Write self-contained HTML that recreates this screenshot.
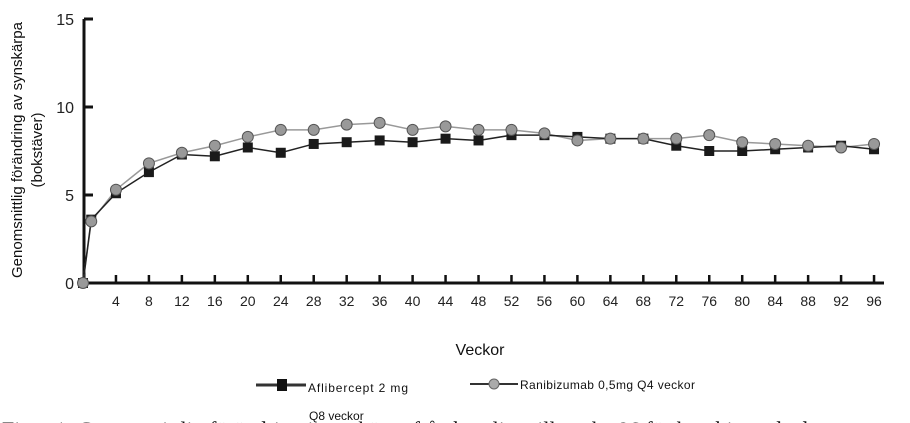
<!DOCTYPE html><html><head><style>body{margin:0;width:910px;height:423px;overflow:hidden;background:#fff;position:relative}</style></head><body>
<svg id="s" width="910" height="423" style="position:absolute;left:0;top:0" font-family="Liberation Sans, sans-serif"></svg>
<script>
var s=document.getElementById('s'),h='';
function X(w){return 83+w*8.24}function Y(v){return 283-v*17.6}
h+='<line x1="84" y1="19" x2="84" y2="284" stroke="#111" stroke-width="3"/>';
h+='<line x1="83" y1="283" x2="884" y2="283" stroke="#111" stroke-width="3"/>';
[0,5,10,15].forEach(function(v){var y=Y(v);h+='<line x1="84" y1="'+y+'" x2="93" y2="'+y+'" stroke="#111" stroke-width="3"/><text x="74" y="'+(y+6)+'" font-size="16" fill="#222" text-anchor="end">'+v+'</text>';});
for(var w=4;w<=96;w+=4){var x=X(w);h+='<line x1="'+x+'" y1="275" x2="'+x+'" y2="283" stroke="#111" stroke-width="2.5"/><text x="'+x+'" y="306" font-size="14" fill="#222" text-anchor="middle">'+w+'</text>';}
var wk=[0,1];for(w=4;w<=96;w+=4)wk.push(w);
var a=[0,3.6,5.1,6.3,7.3,7.2,7.7,7.4,7.9,8.0,8.1,8.0,8.2,8.1,8.4,8.4,8.3,8.2,8.2,7.8,7.5,7.5,7.6,7.7,7.8,7.6];
var r=[0,3.5,5.3,6.8,7.4,7.8,8.3,8.7,8.7,9.0,9.1,8.7,8.9,8.7,8.7,8.5,8.1,8.2,8.2,8.2,8.4,8.0,7.9,7.8,7.7,7.9];
function pts(d){return wk.map(function(w,i){return X(w)+','+Y(d[i])}).join(' ')}
h+='<polyline points="'+pts(r)+'" fill="none" stroke="#999" stroke-width="1.5"/>';
h+='<polyline points="'+pts(a)+'" fill="none" stroke="#222" stroke-width="1.5"/>';
wk.forEach(function(w,i){h+='<rect x="'+(X(w)-5)+'" y="'+(Y(a[i])-5)+'" width="10" height="10" fill="#1a1a1a"/>';});
wk.forEach(function(w,i){h+='<circle cx="'+X(w)+'" cy="'+Y(r[i])+'" r="5.5" fill="#999" stroke="#555" stroke-width="1"/>';});
h+='<text transform="translate(22,150) rotate(-90)" font-size="15" fill="#111" text-anchor="middle">Genomsnittlig förändring av synskärpa</text>';
h+='<text transform="translate(42,150) rotate(-90)" font-size="15" fill="#111" text-anchor="middle">(bokstäver)</text>';
h+='<text x="480" y="355" font-size="16" fill="#111" text-anchor="middle">Veckor</text>';
h+='<line x1="256" y1="385" x2="306" y2="385" stroke="#333" stroke-width="3"/><rect x="277" y="379" width="10" height="12" fill="#111"/>';
h+='<text x="308" y="392" font-size="12" fill="#111" textLength="100">Aflibercept 2 mg</text>';
h+='<text x="309" y="420" font-size="12" fill="#111">Q8 veckor</text>';
h+='<line x1="470" y1="384" x2="518" y2="384" stroke="#333" stroke-width="2"/><circle cx="494" cy="384" r="5" fill="#aaa" stroke="#666"/>';
h+='<text x="520" y="389" font-size="12" fill="#111" textLength="175">Ranibizumab 0,5mg Q4 veckor</text>';
h+='<text x="2" y="437" font-size="22" font-family="Liberation Serif, serif" fill="#111">Figur 1: Genomsnittlig förändring i synskärpa från baseline till vecka 96 för kombinerade data</text>';
s.innerHTML=h;
</script></body></html>
